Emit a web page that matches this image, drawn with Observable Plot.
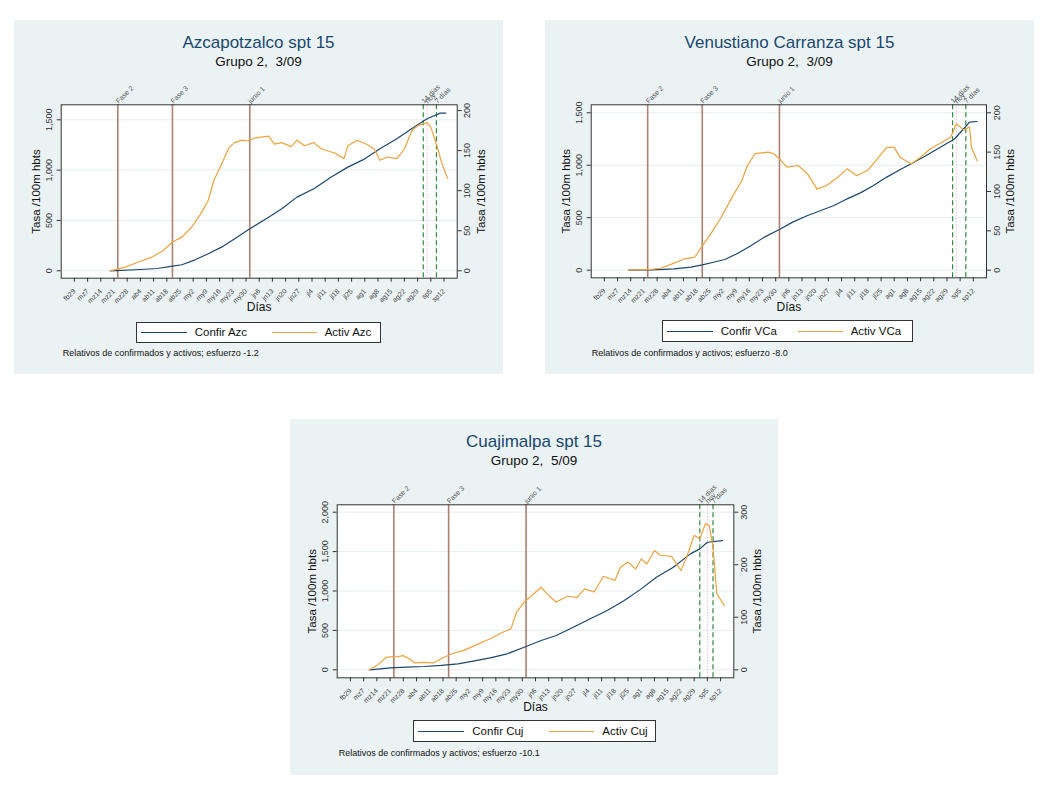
<!DOCTYPE html>
<html><head><meta charset="utf-8">
<script src="https://cdn.jsdelivr.net/npm/d3@7"></script>
<script src="https://cdn.jsdelivr.net/npm/@observablehq/plot@0.6"></script>
<style>
body{margin:0;background:#fff;font-family:"Liberation Sans",Arial,sans-serif;}
.panel{position:absolute;background:#eaf2f3;}
.ttl{position:absolute;left:0;right:0;text-align:center;color:#1a476f;font-size:17px;height:20px;line-height:20px;white-space:pre;}
.sub{position:absolute;left:0;right:0;text-align:center;color:#111;font-size:13.5px;height:16px;line-height:16px;white-space:pre;}
.leg{position:absolute;background:#fff;border:1px solid #333;box-sizing:border-box;}
.leg .sw{position:absolute;top:50%;height:0;border-top:1.3px solid;}
.leg .lt{position:absolute;top:0;bottom:0;display:flex;align-items:center;font-size:11.5px;color:#111;white-space:nowrap;}
.cap{position:absolute;font-size:9px;color:#111;white-space:nowrap;height:12px;line-height:12px;}
.pl{position:absolute;left:0;top:60px;}
</style></head><body>
<div id="root"></div>
<script>
// ---- x axis ticks ----
const tickDates = ["2020-02-29","2020-03-07","2020-03-14","2020-03-21","2020-03-28","2020-04-04","2020-04-11","2020-04-18","2020-04-25","2020-05-02","2020-05-09","2020-05-16","2020-05-23","2020-05-30","2020-06-06","2020-06-13","2020-06-20","2020-06-27","2020-07-04","2020-07-11","2020-07-18","2020-07-25","2020-08-01","2020-08-08","2020-08-15","2020-08-22","2020-08-29","2020-09-05","2020-09-12"];
const tickLabels = ["fb29","mz7","mz14","mz21","mz28","ab4","ab11","ab18","ab25","my2","my9","my16","my23","my30","jn6","jn13","jn20","jn27","jl4","jl11","jl18","jl25","ag1","ag8","ag15","ag22","ag29","sp5","sp12"];

// ---- reference lines ----
const eventDates = ["2020-03-23","2020-04-21","2020-06-01"];
const eventLabels = ["Fase 2","Fase 3","junio 1"];
const windowDates = ["2020-09-01","2020-09-08"];
const windowLabels = ["14 días","7 días"];
const todayLabel = "hoy";

// ---- Azcapotzalco ----
const azcConfir = [["2020-03-19",0],["2020-04-04",13],["2020-04-13",23],["2020-04-21",46],["2020-04-26",60],["2020-05-03",109],["2020-05-10",169],["2020-05-17",235],["2020-05-24",318],["2020-06-01",417],["2020-06-11",533],["2020-06-18",616],["2020-06-26",732],["2020-07-05",815],["2020-07-14",930],["2020-07-23",1030],["2020-08-01",1112],["2020-08-09",1212],["2020-08-18",1311],["2020-08-27",1427],["2020-09-03",1510],["2020-09-10",1566],["2020-09-13",1566]];
const azcActiv = [["2020-03-19",0],["2020-03-27",4.6],["2020-04-03",11],["2020-04-10",17],["2020-04-16",25],["2020-04-21",36],["2020-04-26",42],["2020-05-01",54],["2020-05-06",71],["2020-05-10",88],["2020-05-13",113],["2020-05-17",133],["2020-05-21",154],["2020-05-24",160],["2020-05-28",163],["2020-05-31",162],["2020-06-04",166],["2020-06-11",168],["2020-06-14",158],["2020-06-18",160],["2020-06-23",155],["2020-06-26",163],["2020-06-30",156],["2020-07-05",160],["2020-07-09",152],["2020-07-16",147],["2020-07-21",140],["2020-07-23",156],["2020-07-28",163],["2020-08-02",158],["2020-08-06",152],["2020-08-09",138],["2020-08-13",142],["2020-08-18",140],["2020-08-22",152],["2020-08-26",175],["2020-08-29",181],["2020-09-03",185],["2020-09-05",179],["2020-09-08",158],["2020-09-11",133],["2020-09-14",115]];

// ---- Venustiano Carranza ----
const vcaConfir = [["2020-03-13",0],["2020-03-25",3],["2020-04-06",13],["2020-04-15",29],["2020-04-21",51],["2020-04-27",76],["2020-05-03",102],["2020-05-10",162],["2020-05-17",235],["2020-05-24",315],["2020-06-01",388],["2020-06-08",458],["2020-06-16",521],["2020-06-23",569],["2020-06-30",617],["2020-07-07",680],["2020-07-14",737],["2020-07-21",807],["2020-07-28",887],["2020-08-04",957],["2020-08-11",1023],["2020-08-18",1093],["2020-08-25",1166],["2020-09-02",1250],["2020-09-07",1350],["2020-09-10",1411],["2020-09-14",1417]];
const vcaActiv = [["2020-03-13",0],["2020-03-25",1],["2020-03-30",2.5],["2020-04-06",9],["2020-04-11",14],["2020-04-17",16.5],["2020-04-21",31],["2020-04-26",48],["2020-05-01",67],["2020-05-06",89],["2020-05-12",114],["2020-05-15",133],["2020-05-19",148],["2020-05-26",150],["2020-05-29",148],["2020-06-01",141.5],["2020-06-05",131],["2020-06-11",133],["2020-06-16",122],["2020-06-21",103],["2020-06-26",107.6],["2020-07-02",118],["2020-07-07",129],["2020-07-12",120],["2020-07-18",127],["2020-07-23",141.5],["2020-07-28",156],["2020-08-01",156],["2020-08-04",143.6],["2020-08-10",135],["2020-08-15",143.6],["2020-08-20",154],["2020-08-25",160.6],["2020-08-31",169],["2020-09-03",186],["2020-09-07",178],["2020-09-10",182],["2020-09-11",156],["2020-09-14",139]];

// ---- Cuajimalpa ----
const cujConfir = [["2020-03-10",0],["2020-03-16",13],["2020-03-21",25],["2020-03-30",34],["2020-04-08",42],["2020-04-17",55],["2020-04-26",76],["2020-05-04",110],["2020-05-13",152],["2020-05-22",203],["2020-05-31",287],["2020-06-09",372],["2020-06-17",435],["2020-06-26",541],["2020-07-05",647],["2020-07-14",753],["2020-07-23",879],["2020-08-01",1027],["2020-08-09",1175],["2020-08-18",1302],["2020-08-27",1471],["2020-09-01",1535],["2020-09-05",1619],["2020-09-13",1640]];
const cujActiv = [["2020-03-10",0],["2020-03-14",8],["2020-03-19",24],["2020-03-25",25],["2020-03-28",27],["2020-04-01",19],["2020-04-03",13],["2020-04-08",14],["2020-04-13",13],["2020-04-18",23],["2020-04-24",32],["2020-04-29",37],["2020-05-06",48],["2020-05-13",59],["2020-05-20",72],["2020-05-24",78],["2020-05-27",110],["2020-05-31",129],["2020-06-03",138],["2020-06-09",157],["2020-06-14",138],["2020-06-17",129],["2020-06-23",140],["2020-06-28",138],["2020-07-02",154],["2020-07-07",148],["2020-07-12",178],["2020-07-18",170],["2020-07-21",195],["2020-07-25",205],["2020-07-29",192],["2020-08-01",211],["2020-08-04",202],["2020-08-08",227],["2020-08-11",218],["2020-08-17",216],["2020-08-22",189],["2020-08-25",214],["2020-08-29",256],["2020-09-01",249],["2020-09-04",278],["2020-09-06",275],["2020-09-08",233],["2020-09-10",145],["2020-09-14",122]];

const parse = d3.utcParse("%Y-%m-%d");
const labelMap = new Map(tickDates.map((d,i)=>[+parse(d), tickLabels[i]]));
const FONT = "'Liberation Sans', Arial, sans-serif";

function makePanel(cfg){
  const root = document.getElementById("root");
  const p = document.createElement("div");
  p.className = "panel";
  Object.assign(p.style,{left:cfg.left+"px",top:cfg.top+"px",width:cfg.w+"px",height:cfg.h+"px"});
  root.appendChild(p);
  const t = document.createElement("div"); t.className="ttl"; t.style.top="12.7px"; t.textContent=cfg.title; p.appendChild(t);
  const s = document.createElement("div"); s.className="sub"; s.style.top="33.7px"; s.textContent=cfg.subtitle; p.appendChild(s);

  const k = cfg.k;
  const H = 238;
  const conf = cfg.confir.map(([d,v])=>({date:parse(d), v}));
  const act = cfg.activ.map(([d,v])=>({date:parse(d), v:v*k}));
  const ev = eventDates.map((d,i)=>({date:parse(d), label:eventLabels[i]}));
  const win = windowDates.map((d,i)=>({date:parse(d), label:windowLabels[i]}));
  const today = [{date:parse(cfg.today), label:todayLabel}];
  const lblOpts = {x:"date", text:"label", frameAnchor:"top", rotate:-45, textAnchor:"start", lineAnchor:"bottom", dx:1, dy:-1, fontSize:7, fill:"#555"};

  const svg = Plot.plot({
    width: cfg.w, height: H,
    marginTop: cfg.mt, marginBottom: H - cfg.fb, marginLeft: cfg.ml, marginRight: cfg.mr,
    x: {type:"utc", domain:[parse("2020-02-22"), parse("2020-09-19")]},
    y: {domain: cfg.yDomain},
    style: {background:"transparent", fontFamily:FONT, color:"#333", overflow:"visible"},
    marks: [
      Plot.frame({fill:"white"}),
      Plot.ruleY(cfg.leftTicks, {stroke:"#e6eef0", strokeWidth:1}),
      Plot.ruleX(ev, {x:"date", stroke:"#b0806e", strokeWidth:1.6}),
      Plot.ruleX(win, {x:"date", stroke:"#2e8b3e", strokeWidth:1.2, strokeDasharray:"5,3"}),
      Plot.ruleX(today, {x:"date", stroke:"#e99ad2", strokeWidth:1, strokeDasharray:"1,2"}),
      Plot.line(conf, {x:"date", y:"v", stroke:"#1a476f", strokeWidth:1.2}),
      Plot.line(act, {x:"date", y:"v", stroke:"#f0a23c", strokeWidth:1.2}),
      Plot.frame({stroke:"#333", strokeWidth:1}),
      Plot.text(ev, lblOpts),
      Plot.text(win, lblOpts),
      Plot.text(today, lblOpts),
      Plot.axisX(tickDates.map(parse), {tickFormat:d=>labelMap.get(+d), tickRotate:-45, tickSize:4, fontSize:7, fill:"#444", label:null}),
      Plot.axisY(cfg.leftTicks, {anchor:"left", tickFormat:d3.format(","), tickRotate:-90, textAnchor:"middle", lineAnchor:"middle", tickSize:4, tickPadding:8.5, fontSize:9, label:null}),
      Plot.axisY(cfg.rightTicks.map(v=>v*k), {anchor:"right", tickFormat:d=>String(Math.round(d/k)), tickRotate:-90, textAnchor:"middle", lineAnchor:"middle", tickSize:4, tickPadding:6.3, fontSize:9, label:null}),
      Plot.text(["Tasa /100m hbts"], {text:d=>d, frameAnchor:"left", rotate:-90, textAnchor:"middle", lineAnchor:"middle", dx:-25, fontSize:11.5, fill:"#111"}),
      Plot.text(["Tasa /100m hbts"], {text:d=>d, frameAnchor:"right", rotate:-90, textAnchor:"middle", lineAnchor:"middle", dx:24, fontSize:11.5, fill:"#111"}),
      Plot.text(["Días"], {text:d=>d, frameAnchor:"bottom", textAnchor:"middle", lineAnchor:"middle", dy:29, fontSize:12, fill:"#111"})
    ]
  });
  svg.classList.add("pl");
  p.appendChild(svg);

  const lg = document.createElement("div"); lg.className="leg";
  Object.assign(lg.style,{left:cfg.lg[0]+"px", top:cfg.lg[1]+"px", width:cfg.lg[2]+"px", height:cfg.lg[3]+"px"});
  lg.innerHTML = `<div class="sw" style="left:4px;width:46px;border-color:#1a476f"></div>
    <div class="lt" style="left:58px">${cfg.names[0]}</div>
    <div class="sw" style="left:135px;width:45px;border-color:#f0a23c"></div>
    <div class="lt" style="left:188px">${cfg.names[1]}</div>`;
  p.appendChild(lg);
  const c = document.createElement("div"); c.className="cap";
  c.style.left = cfg.cap[0]+"px"; c.style.top = (cfg.cap[1]-6)+"px"; c.textContent = cfg.caption;
  p.appendChild(c);
}

makePanel({left:14, top:20, w:489, h:354, title:"Azcapotzalco spt 15", subtitle:"Grupo 2,  3/09",
  confir:azcConfir, activ:azcActiv, k:7.96, yDomain:[-73.5,1649], leftTicks:[0,500,1000,1500], rightTicks:[0,50,100,150,200],
  mt:24.3, fb:197.7, ml:46.7, mr:46.3, today:"2020-09-03",
  lg:[121.7,301.7,245.6,21.6], names:["Confir Azc","Activ Azc"],
  cap:[48.7,333.3], caption:"Relativos de confirmados y activos; esfuerzo -1.2"});

makePanel({left:545, top:20, w:489, h:354, title:"Venustiano Carranza spt 15", subtitle:"Grupo 2,  3/09",
  confir:vcaConfir, activ:vcaActiv, k:7.5, yDomain:[-72.4,1576], leftTicks:[0,500,1000,1500], rightTicks:[0,50,100,150,200],
  mt:24.3, fb:197.3, ml:45.7, mr:48, today:"2020-09-03",
  lg:[116.7,300,251.6,22], names:["Confir VCa","Activ VCa"],
  cap:[46.7,333], caption:"Relativos de confirmados y activos; esfuerzo -8.0"});

makePanel({left:290, top:419, w:488, h:356, title:"Cuajimalpa spt 15", subtitle:"Grupo 2,  5/09",
  confir:cujConfir, activ:cujActiv, k:6.667, yDomain:[-101.5,2094], leftTicks:[0,500,1000,1500,2000], rightTicks:[0,100,200,300],
  mt:25.3, fb:198.3, ml:46.7, mr:44.7, today:"2020-09-05",
  lg:[123.3,301,242.7,22.3], names:["Confir Cuj","Activ Cuj"],
  cap:[48.7,334.3], caption:"Relativos de confirmados y activos; esfuerzo -10.1"});
</script>
</body></html>
